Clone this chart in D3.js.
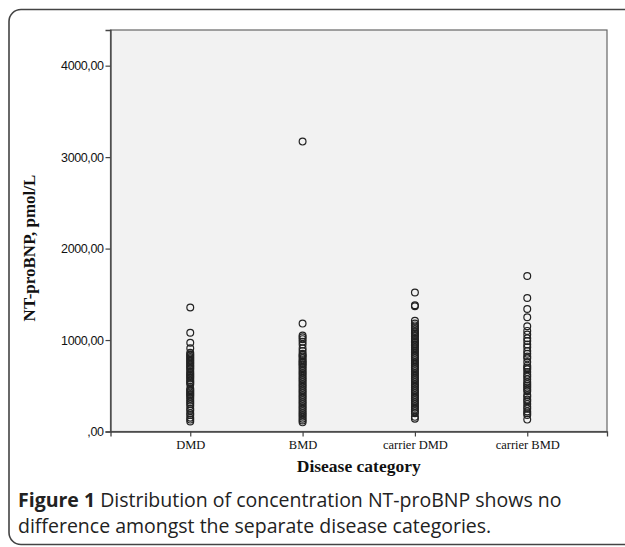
<!DOCTYPE html>
<html>
<head>
<meta charset="utf-8">
<script src="https://cdn.jsdelivr.net/npm/d3@7"></script>
<style>
  html, body { margin: 0; padding: 0; background: #fff; overflow: hidden; }
  svg { display: block; }
</style>
</head>
<body>
<svg id="chart" width="625" height="547"></svg>
<script>
// ---- Data ----
const categories = ["DMD", "BMD", "carrier DMD", "carrier BMD"];
const valuesDMD = [1355, 1080, 970, 910, 860, 845, 830, 815, 800, 785, 770, 755, 740, 725, 710, 695, 680, 660, 640, 625, 610, 595, 580, 560, 545, 530, 515, 470, 455, 440, 425, 410, 395, 380, 360, 340, 320, 300, 280, 250, 230, 200, 180, 150, 130, 110];
const valuesBMD = [3170, 1180, 1050, 1030, 1010, 980, 950, 910, 880, 850, 835, 820, 800, 780, 765, 750, 735, 720, 700, 680, 660, 640, 620, 600, 580, 560, 540, 520, 500, 480, 460, 440, 420, 400, 380, 360, 340, 320, 300, 280, 260, 240, 220, 200, 180, 160, 140, 120, 100];
const valuesCarrierDMD = [1520, 1380, 1370, 1210, 1180, 1160, 1140, 1120, 1100, 1085, 1070, 1055, 1040, 1020, 1000, 985, 970, 955, 940, 920, 900, 880, 860, 840, 820, 800, 780, 760, 740, 720, 700, 680, 660, 640, 620, 600, 580, 560, 540, 520, 500, 480, 460, 440, 420, 400, 380, 360, 340, 320, 300, 280, 260, 240, 220, 200, 160, 140];
const valuesCarrierBMD = [1700, 1460, 1340, 1250, 1150, 1100, 1060, 1020, 990, 950, 920, 880, 850, 820, 800, 760, 720, 700, 680, 650, 620, 600, 570, 540, 520, 500, 480, 460, 440, 400, 380, 350, 330, 300, 270, 250, 220, 200, 180, 130];
const seriesValues = [valuesDMD, valuesBMD, valuesCarrierDMD, valuesCarrierBMD];
const yTicks = [0, 1000, 2000, 3000, 4000];
const yTickLabels = [",00", "1000,00", "2000,00", "3000,00", "4000,00"];
const yTitle = "NT-proBNP, pmol/L";
const xTitle = "Disease category";
const captionBold = "Figure 1";
const captionLine1 = " Distribution of concentration NT-proBNP shows no";
const captionLine2 = "difference amongst the separate disease categories.";

// ---- Layout ----
const svg = d3.select("#chart");
const plot = { left: 110.5, right: 607, top: 30, bottom: 431.5 };

// outer frame with rounded corners (right side runs off the picture)
svg.append("rect")
  .attr("x", 9).attr("y", 9.5)
  .attr("width", 720).attr("height", 535)
  .attr("rx", 12).attr("ry", 12)
  .attr("fill", "none")
  .attr("stroke", "#444")
  .attr("stroke-width", 1.6);

const x = d3.scalePoint()
  .domain(categories)
  .range([plot.left, plot.right])
  .padding(0.71);

const y = d3.scaleLinear()
  .domain([0, 4390])
  .range([plot.bottom, plot.top]);

// plot background
svg.append("rect")
  .attr("x", plot.left).attr("y", plot.top)
  .attr("width", plot.right - plot.left)
  .attr("height", plot.bottom - plot.top)
  .attr("fill", "#f2f2f2")
  .attr("stroke", "#666")
  .attr("stroke-width", 1.2);

// y axis
const yAxis = d3.axisLeft(y)
  .tickValues(yTicks)
  .tickFormat((d, i) => yTickLabels[i])
  .tickSize(5)
  .tickPadding(2);
const gy = svg.append("g")
  .attr("transform", `translate(${plot.left},0)`)
  .call(yAxis);
gy.select(".domain").attr("stroke", "#444").attr("stroke-width", 1.3);
gy.selectAll(".tick line").attr("stroke", "#444").attr("stroke-width", 1.2);
gy.selectAll(".tick text")
  .attr("fill", "#111")
  .style("font-family", "Arial, 'Liberation Sans', sans-serif")
  .style("font-size", "12.5px")
  .style("letter-spacing", "-0.4px");

// x axis
const xAxis = d3.axisBottom(x).tickSize(5).tickPadding(4);
const gx = svg.append("g")
  .attr("transform", `translate(0,${plot.bottom})`)
  .call(xAxis);
gx.select(".domain").attr("stroke", "#444").attr("stroke-width", 1.3);
gx.selectAll(".tick line").attr("stroke", "#444").attr("stroke-width", 1.2);
gx.selectAll(".tick text")
  .attr("fill", "#111")
  .style("font-family", "'Times New Roman', 'Liberation Serif', serif")
  .style("font-size", "12.5px");

// points
const points = [];
categories.forEach((c, i) => seriesValues[i].forEach(v => points.push({ c, v })));
svg.append("g")
  .selectAll("circle")
  .data(points)
  .join("circle")
  .attr("cx", d => x(d.c))
  .attr("cy", d => y(d.v))
  .attr("r", 3.4)
  .attr("fill", "none")
  .attr("stroke", "#222")
  .attr("stroke-width", 1.2);

// axis titles
svg.append("text")
  .attr("x", (plot.left + plot.right) / 2)
  .attr("y", 468)
  .attr("text-anchor", "middle")
  .attr("dominant-baseline", "middle")
  .attr("fill", "#111")
  .style("font-family", "'Times New Roman', 'Liberation Serif', serif")
  .style("font-weight", "bold")
  .style("font-size", "17.5px")
  .text(xTitle);

svg.append("text")
  .attr("transform", `translate(31,248) rotate(-90)`)
  .attr("text-anchor", "middle")
  .attr("dominant-baseline", "middle")
  .attr("fill", "#111")
  .style("font-family", "'Times New Roman', 'Liberation Serif', serif")
  .style("font-weight", "bold")
  .style("font-size", "17px")
  .text(yTitle);

// caption
const cap = svg.append("g")
  .style("font-family", "'Open Sans', 'Noto Sans', sans-serif")
  .style("font-size", "19.5px")
  .attr("fill", "#222");
const t1 = cap.append("text").attr("x", 18).attr("y", 507);
t1.append("tspan").style("font-weight", "bold").text(captionBold);
t1.append("tspan").text(captionLine1);
cap.append("text").attr("x", 18).attr("y", 533).text(captionLine2);
</script>
</body>
</html>
